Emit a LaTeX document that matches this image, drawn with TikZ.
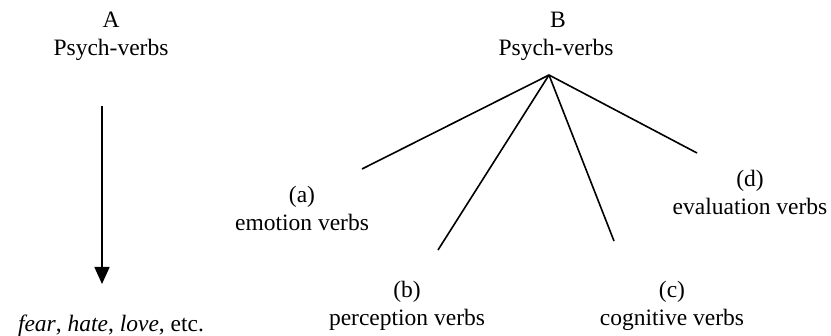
\documentclass[tikz,border=0pt]{standalone}
\usepackage{fontspec}
\setmainfont{Liberation Serif}
\usetikzlibrary{arrows.meta}
\begin{document}
\begin{tikzpicture}[x=1pt,y=-1pt,
  lbl/.style={anchor=base,inner sep=0pt,font=\fontsize{23.5}{28}\selectfont},
  branch/.style={line width=1.6pt},
  downarrow/.style={line width=1.6pt,-{Triangle[length=17pt,width=15pt]}}]
\useasboundingbox (0,0) rectangle (831,336);
% Part A
\node[lbl] (Aletter) at (111,28) {A};
\node[lbl] (Atitle) at (111,56) {Psych-verbs};
\coordinate (Astart) at (102,106);
\coordinate (Aend) at (102,284);
\draw[downarrow] (Astart) -- (Aend);
\node[lbl] (Aex) at (111,332) {\textit{fear}, \textit{hate}, \textit{love}, etc.};
% Part B
\node[lbl] (Bletter) at (558,28) {B};
\node[lbl] (Btitle) at (556,56) {Psych-verbs};
\coordinate (apex) at (549,75);
\coordinate (ea) at (362,169);
\coordinate (eb) at (438,250);
\coordinate (ec) at (614,241);
\coordinate (ed) at (697,153);
\draw[branch] (apex) -- (ea);
\draw[branch] (apex) -- (eb);
\draw[branch] (apex) -- (ec);
\draw[branch] (apex) -- (ed);
\node[lbl] (la) at (302,203) {(a)};
\node[lbl] (ta) at (302,231) {emotion verbs};
\node[lbl] (lb) at (407,298) {(b)};
\node[lbl] (tb) at (407,326) {perception verbs};
\node[lbl] (lc) at (672,298) {(c)};
\node[lbl] (tc) at (672,326) {cognitive verbs};
\node[lbl] (ld) at (750,187) {(d)};
\node[lbl] (td) at (750,215) {evaluation verbs};
\end{tikzpicture}
\end{document}
